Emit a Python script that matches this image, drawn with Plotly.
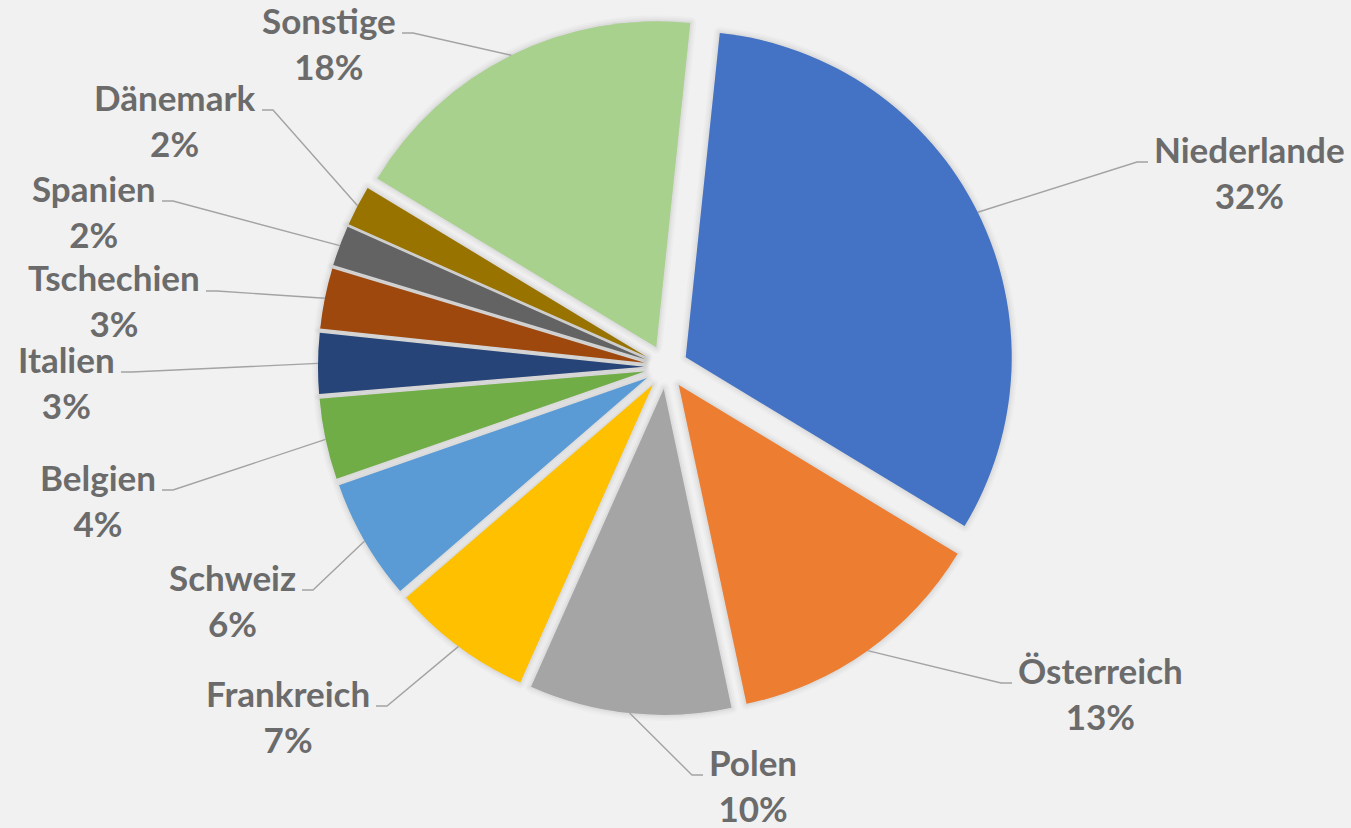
import math
import plotly.graph_objects as go

# ---------------- data ----------------
countries = ["Niederlande", "Österreich", "Polen", "Frankreich", "Schweiz", "Belgien",
             "Italien", "Tschechien", "Spanien", "Dänemark", "Sonstige"]
shares = [32, 13, 10, 7, 6, 4, 3, 3, 2, 2, 18]

# ---------------- styling / layout ----------------
colors = ["#4472C4", "#ED7D31", "#A5A5A5", "#FFC000", "#5B9BD5", "#70AD47",
          "#264478", "#9E480E", "#636363", "#997300", "#A9D18E"]

W, H = 1351, 828
CX, CY, R = 666, 367, 326        # pie centre / radius in px
PULL = 0.0675
START = 6                         # first slice angle (deg, clockwise from 12 o'clock)
FONT = "Lato"
FSIZE = 35
TXT = "#6b6b6b"
LINE = "#a3a3a3"
BG = "#f1f1f1"

# data-label boxes (manually placed as in the source chart):
# elbow point of leader line (px) and side of the label
label_elbow = [(1137, 162), (1001, 683), (692, 775), (387, 706), (313, 590), (173, 490),
               (132, 372), (217, 291), (173, 201), (273, 110), (413, 33)]
label_side = ["r", "r", "r", "l", "l", "l", "l", "l", "l", "l", "l"]
STUB = 11
GAP = 4
ASC = 36.5   # px from annotation top to first baseline


def px(x, y):
    return x / W, 1 - y / H


half = R * (1 + PULL)
dom_x = [(CX - half) / W, (CX + half) / W]
dom_y = [1 - (CY + half) / H, 1 - (CY - half) / H]

fig = go.Figure()
# soft shadow behind the slices
for w, a in [(12, 0.018), (8, 0.025), (4, 0.035)]:
    fig.add_trace(go.Pie(
        labels=countries, values=shares, sort=False, direction="clockwise",
        rotation=START, pull=PULL,
        marker=dict(colors=[f"rgba(0,0,0,{a})"] * len(shares),
                    line=dict(width=w, color=f"rgba(0,0,0,{a})")),
        textinfo="none", hoverinfo="skip", showlegend=False,
        domain=dict(x=dom_x, y=dom_y),
    ))
fig.add_trace(go.Pie(
    labels=countries, values=shares, sort=False, direction="clockwise",
    rotation=START, pull=PULL,
    marker=dict(colors=colors, line=dict(width=0)),
    textinfo="none", hoverinfo="label+percent", showlegend=False,
    domain=dict(x=dom_x, y=dom_y),
))

total = sum(shares)
cum = 0
shapes, annotations = [], []
for name, v, (bx, by), side in zip(countries, shares, label_elbow, label_side):
    mid = math.radians(START + 360 * (cum + v / 2) / total)
    cum += v
    sx = CX + R * (1 + PULL) * math.sin(mid)
    sy = CY - R * (1 + PULL) * math.cos(mid)
    ex = bx + STUB if side == "r" else bx - STUB
    p = [px(sx, sy), px(bx, by), px(ex, by)]
    path = "M {} {} L {} {} L {} {}".format(*[c for pt in p for c in pt])
    shapes.append(dict(type="path", xref="paper", yref="paper", path=path,
                       line=dict(color=LINE, width=1.4)))
    pct = round(100 * v / total)
    tx = ex + GAP if side == "r" else ex - GAP
    ax, ay = px(tx, by - ASC)
    annotations.append(dict(
        x=ax, y=ay, xref="paper", yref="paper", showarrow=False,
        xanchor="left" if side == "r" else "right", yanchor="top", align="center",
        text=f"<b>{name}</b><br><b>{pct}%</b>",
        font=dict(family=FONT, size=FSIZE, color=TXT),
    ))

fig.update_layout(
    width=W, height=H, margin=dict(l=0, r=0, t=0, b=0),
    paper_bgcolor=BG, plot_bgcolor=BG,
    shapes=shapes, annotations=annotations,
)
fig.write_html(
    "out.html",
    config={"displayModeBar": False},
    post_script=f"document.body.style.margin='0';document.body.style.background='{BG}';",
)
